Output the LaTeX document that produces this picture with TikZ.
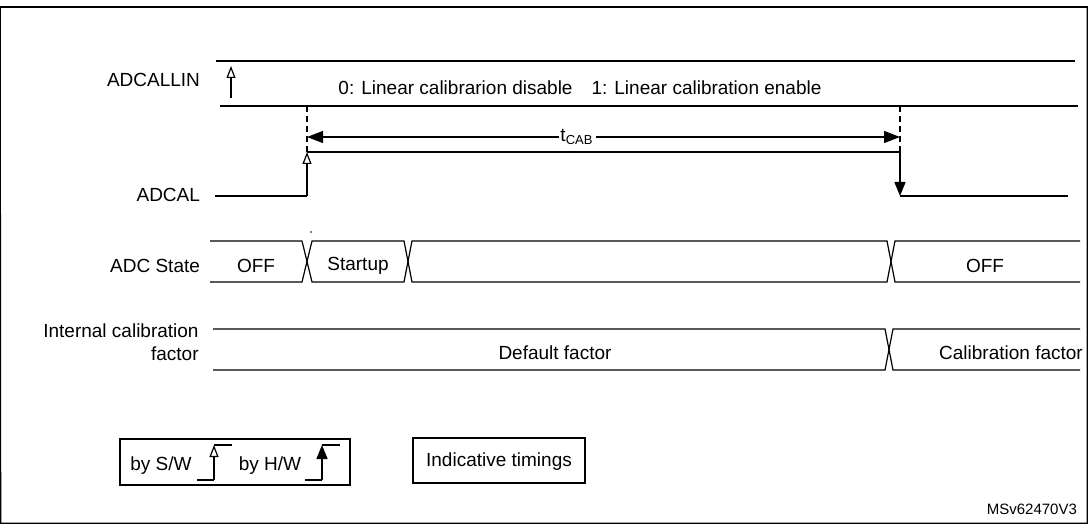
\documentclass[tikz,border=0pt]{standalone}
\usepackage{fontspec}
\setmainfont{Liberation Sans}
\usetikzlibrary{arrows.meta, positioning, calc}

\begin{document}
\begin{tikzpicture}[
    x=0.5pt, y=-0.5pt,
    font=\fontsize{9.5}{11.5}\selectfont,
    sig/.style={line width=0.6pt},
    swarrow/.style={-{Triangle[open, length=6pt, width=4.5pt]}, line width=0.6pt},
    hwarrow/.style={-{Triangle[length=7pt, width=5.5pt]}, line width=0.7pt},
    dim/.style={{Triangle[length=8pt, width=6pt]}-{Triangle[length=8pt, width=6pt]}, line width=0.6pt},
    guide/.style={dashed, dash pattern=on 3pt off 2pt, line width=0.6pt},
    siglabel/.style={anchor=east, align=right},
    box/.style={draw, line width=0.6pt, inner sep=0pt}
]
\useasboundingbox (0,0) rectangle (1088,524);
\draw[line width=0.8pt] (0,7) -- (1087.5,7) -- (1087.5,523.5) -- (0.5,523.5) -- cycle;

% Signal labels
\node[siglabel] (lbl-allin) at (207,80) {ADCALLIN};
\node[siglabel] (lbl-cal) at (207,195) {ADCAL};
\node[siglabel] (lbl-state) at (207,266) {ADC State};
\node[siglabel, inner sep=1pt] (lbl-factor) at (201,342) {Internal calibration\\factor};

% ADCALLIN
\draw[sig] (216,61) -- (1075,61);
\draw[sig] (220,106) -- (1078,106);
\coordinate (allin-lo) at (231,98);
\coordinate (allin-hi) at (231,66);
\draw[swarrow] (allin-lo) -- (allin-hi);
\node (allin-txt) at (580,88) {0: Linear calibrarion disable\hspace{1em}1: Linear calibration enable};

% ADCAL with tCAB
\coordinate (cal-start) at (215,196);
\coordinate (rise-lo) at (307,196);
\coordinate (rise-hi) at (307,152);
\coordinate (fall-hi) at (900,152);
\coordinate (fall-lo) at (900,196);
\coordinate (cal-end) at (1068,196);
\draw[sig] (cal-start) -- (rise-lo);
\draw[swarrow] (rise-lo) -- (rise-hi);
\draw[sig] (rise-hi) -- (fall-hi);
\draw[hwarrow] (fall-hi) -- (fall-lo);
\draw[sig] (fall-lo) -- (cal-end);
\draw[guide] (307,106) -- (rise-hi);
\draw[guide] (900,106) -- (fall-hi);
\coordinate (tcab-a) at (307,137);
\coordinate (tcab-b) at (900,137);
\draw[dim] (tcab-a) -- (tcab-b);
\node[fill=white, inner sep=1pt] (tcab) at (577,137) {t\textsubscript{\fontsize{6.5}{8}\selectfont CAB}};

% ADC State
\draw[sig] (210,241) -- (302,241) -- (307,261.5) -- (312,241) -- (404,241) -- (408,261.5) -- (412,241)
  -- (887,241) -- (891,261.5) -- (895,241) -- (1080,241);
\draw[sig] (210,282) -- (302,282) -- (307,261.5) -- (312,282) -- (404,282) -- (408,261.5) -- (412,282)
  -- (887,282) -- (891,261.5) -- (895,282) -- (1080,282);
\fill (311,232) circle (0.4pt);
\node (st-off1) at (256,266) {OFF};
\node (st-startup) at (358,266) {Startup};
\node (st-off2) at (985,266) {OFF};

% Internal calibration factor
\draw[sig] (213,329) -- (885,329) -- (889,349.5) -- (893,329) -- (1080,329);
\draw[sig] (213,370) -- (885,370) -- (889,349.5) -- (893,370) -- (1080,370);
\node (fac-default) at (555,353) {Default factor};
\node (fac-cal) at (1011,353) {Calibration factor};

% Legend
\draw[box] (120,439) rectangle (350,485);
\node (lg-sw) at (161,466) {by S/W};
\draw[sig] (197,480) -- (214,480);
\draw[swarrow] (214,480) -- (214,445);
\draw[sig] (214,445) -- (232,445);
\node (lg-hw) at (270,466) {by H/W};
\draw[sig] (305,480) -- (322,480);
\draw[hwarrow] (322,480) -- (322,445);
\draw[sig] (322,445) -- (340,445);
\draw[box] (413,438) rectangle (585,483);
\node (lg-timing) at (499,462) {Indicative timings};

\node[anchor=east, font=\fontsize{7.5}{9}\selectfont] (ref) at (1084,509) {MSv62470V3};
\end{tikzpicture}
\end{document}
